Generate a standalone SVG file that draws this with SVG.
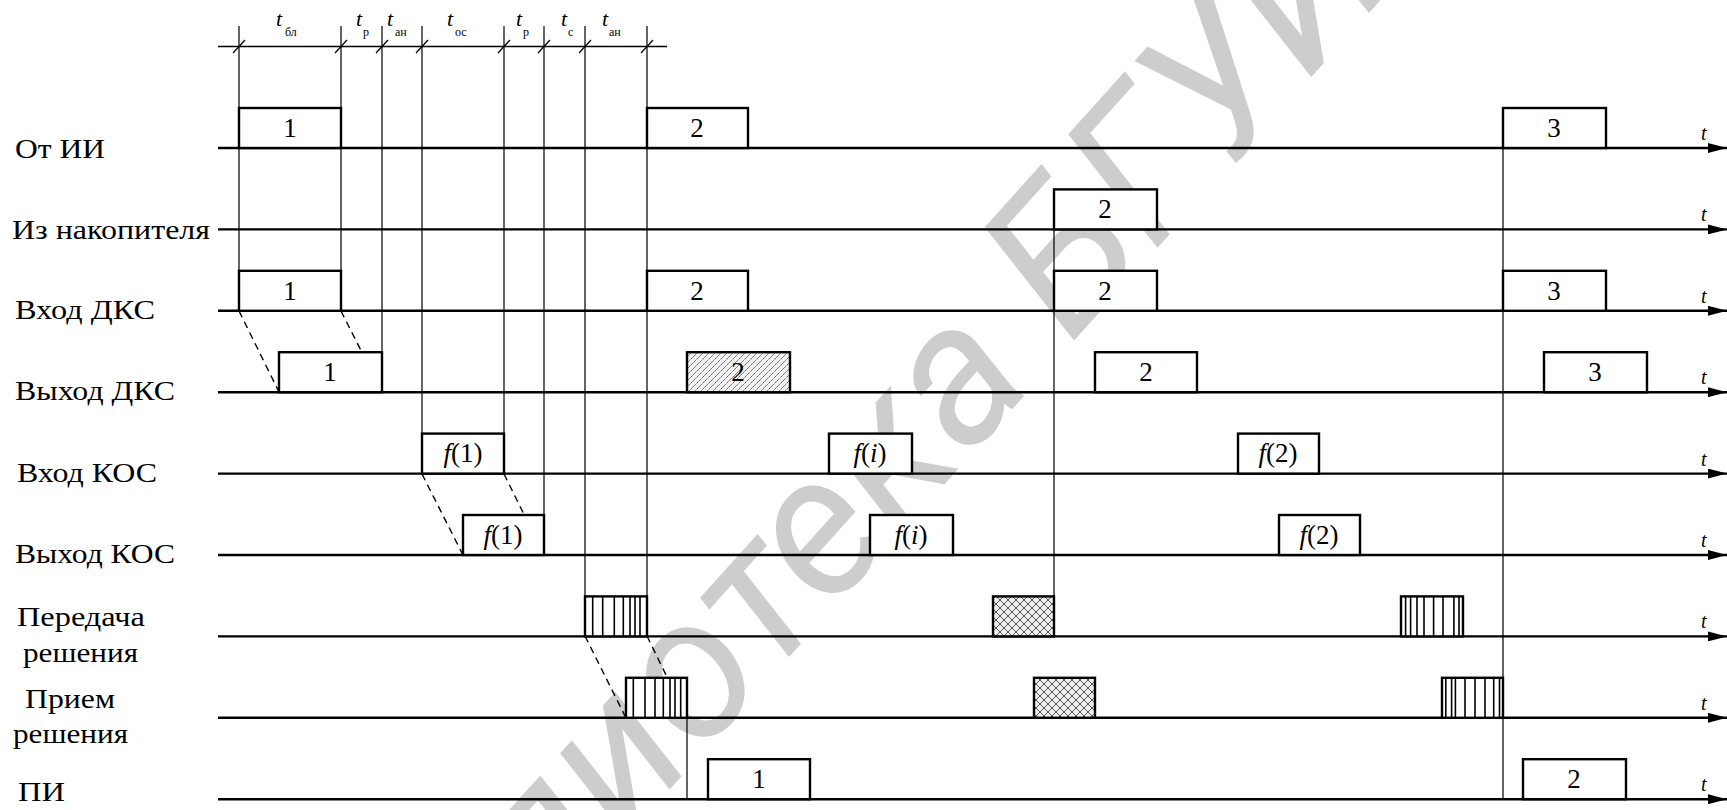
<svg xmlns="http://www.w3.org/2000/svg" width="1727" height="810" viewBox="0 0 1727 810">
<style>
.lbl{font-family:"Liberation Serif","Times New Roman",serif;font-size:27px;fill:#000}
.num{font-family:"Liberation Serif","Times New Roman",serif;font-size:27px;fill:#000;text-anchor:middle}
.it{font-style:italic}
.tt{font-family:"Liberation Serif","Times New Roman",serif;font-style:italic;font-size:22px;fill:#000}
.sub{font-family:"Liberation Serif","Times New Roman",serif;font-size:12px;fill:#000}
.axis{stroke:#000;stroke-width:2.4;fill:none}
.box{stroke:#000;stroke-width:2.4;fill:#fff}
.guide{stroke:#000;stroke-width:1.2;fill:none}
.dash{stroke:#000;stroke-width:1.4;stroke-dasharray:7,5;fill:none}
.vh{stroke:#000;stroke-width:1.6}
.wm{font-family:Roboto,"DejaVu Sans",sans-serif;font-style:italic;font-size:200px;fill:#cdcdcd}
</style>
<defs>
<marker id="arr" viewBox="0 0 19 10" refX="19" refY="5" markerWidth="19" markerHeight="10" markerUnits="userSpaceOnUse" orient="auto">
<path d="M0,0 L19,5 L0,10 Z" fill="#000"/>
</marker>
<pattern id="diag" patternUnits="userSpaceOnUse" width="6" height="6">
<rect width="6" height="6" fill="#f2f2f2"/>
<path d="M-1,7 L7,-1 M-1,1 L1,-1 M5,7 L7,5" stroke="#444" stroke-width="1" stroke-dasharray="2,1"/>
</pattern>
<pattern id="xh" patternUnits="userSpaceOnUse" width="8" height="8">
<rect width="8" height="8" fill="#eeeeee"/>
<path d="M0,0 L8,8 M0,8 L8,0" stroke="#444" stroke-width="0.9"/>
</pattern>
</defs>
<rect width="1727" height="810" fill="#fff"/>

<text class="wm" transform="translate(319,1179) rotate(-48)">Библиотека БГУИР</text>

<g id="scale">
<line class="guide" x1="218" y1="46.5" x2="667" y2="46.5" style="stroke-width:1.5"/>
<path class="guide" d="M233,53 L245,40 M335,53 L347,40 M376,53 L388,40 M416,53 L428,40 M498,53 L510,40 M538,53 L550,40 M579,53 L591,40 M641,53 L653,40"/>
<text class="tt" x="276" y="26">t</text><text class="sub" x="285" y="36">бл</text>
<text class="tt" x="356" y="26">t</text><text class="sub" x="363" y="36">р</text>
<text class="tt" x="387" y="26">t</text><text class="sub" x="395" y="36">ан</text>
<text class="tt" x="447" y="26">t</text><text class="sub" x="455" y="36">ос</text>
<text class="tt" x="516" y="26">t</text><text class="sub" x="523" y="36">р</text>
<text class="tt" x="561" y="26">t</text><text class="sub" x="568" y="36">с</text>
<text class="tt" x="602" y="26">t</text><text class="sub" x="609" y="36">ан</text>
</g>

<g id="guides">
<path class="guide" d="M239,26 V311 M341,26 V311 M382,26 V392 M422,26 V474 M504,26 V474 M544,26 V555 M585,26 V636 M647,26 V636 M687,718 V799 M1054,189 V636 M1503,108 V799"/>
</g>

<g id="labels">
<text class="lbl" x="15" y="158" textLength="90" lengthAdjust="spacingAndGlyphs">От ИИ</text>
<text class="lbl" x="12" y="239" textLength="198" lengthAdjust="spacingAndGlyphs">Из накопителя</text>
<text class="lbl" x="15" y="319" textLength="140" lengthAdjust="spacingAndGlyphs">Вход ДКС</text>
<text class="lbl" x="15" y="400" textLength="160" lengthAdjust="spacingAndGlyphs">Выход ДКС</text>
<text class="lbl" x="17" y="482" textLength="140" lengthAdjust="spacingAndGlyphs">Вход КОС</text>
<text class="lbl" x="15" y="563" textLength="160" lengthAdjust="spacingAndGlyphs">Выход КОС</text>
<text class="lbl" x="17" y="626" textLength="128" lengthAdjust="spacingAndGlyphs">Передача</text>
<text class="lbl" x="23" y="662" textLength="115" lengthAdjust="spacingAndGlyphs">решения</text>
<text class="lbl" x="25" y="708" textLength="90" lengthAdjust="spacingAndGlyphs">Прием</text>
<text class="lbl" x="13" y="743" textLength="115" lengthAdjust="spacingAndGlyphs">решения</text>
<text class="lbl" x="18" y="801" textLength="47" lengthAdjust="spacingAndGlyphs">ПИ</text>
</g>

<g id="connectors">
<line class="axis" x1="218" y1="148" x2="1727" y2="148" marker-end="url(#arr)"/>
<line class="axis" x1="218" y1="229.4" x2="1727" y2="229.4" marker-end="url(#arr)"/>
<line class="axis" x1="218" y1="310.8" x2="1727" y2="310.8" marker-end="url(#arr)"/>
<line class="axis" x1="218" y1="392.2" x2="1727" y2="392.2" marker-end="url(#arr)"/>
<line class="axis" x1="218" y1="473.6" x2="1727" y2="473.6" marker-end="url(#arr)"/>
<line class="axis" x1="218" y1="555" x2="1727" y2="555" marker-end="url(#arr)"/>
<line class="axis" x1="218" y1="636.4" x2="1727" y2="636.4" marker-end="url(#arr)"/>
<line class="axis" x1="218" y1="717.8" x2="1727" y2="717.8" marker-end="url(#arr)"/>
<line class="axis" x1="218" y1="799.2" x2="1727" y2="799.2" marker-end="url(#arr)"/>
<path class="dash" d="M239,311 L279,392 M341,311 L382,392 M422,474 L463,555 M504,474 L544,555 M585,636 L626,718 M647,636 L687,718"/>
<g class="tt" style="font-size:20px">
<text x="1701" y="140">t</text><text x="1701" y="221">t</text><text x="1701" y="303">t</text>
<text x="1701" y="384">t</text><text x="1701" y="466">t</text><text x="1701" y="547">t</text>
<text x="1701" y="628">t</text><text x="1701" y="710">t</text><text x="1701" y="791">t</text>
</g>
</g>

<g id="row-ot-ii">
<rect class="box" x="239" y="108" width="102" height="40"/><text class="num" x="290" y="137">1</text>
<rect class="box" x="647" y="108" width="101" height="40"/><text class="num" x="697" y="137">2</text>
<rect class="box" x="1503" y="108" width="103" height="40"/><text class="num" x="1554" y="137">3</text>
</g>
<g id="row-nakop">
<rect class="box" x="1054" y="189.4" width="103" height="40"/><text class="num" x="1105" y="218">2</text>
</g>
<g id="row-vhod-dks">
<rect class="box" x="239" y="270.8" width="102" height="40"/><text class="num" x="290" y="300">1</text>
<rect class="box" x="647" y="270.8" width="101" height="40"/><text class="num" x="697" y="300">2</text>
<rect class="box" x="1054" y="270.8" width="103" height="40"/><text class="num" x="1105" y="300">2</text>
<rect class="box" x="1503" y="270.8" width="103" height="40"/><text class="num" x="1554" y="300">3</text>
</g>
<g id="row-vyhod-dks">
<rect class="box" x="279" y="352.2" width="103" height="40"/><text class="num" x="330" y="381">1</text>
<rect class="box" x="687" y="352.2" width="103" height="40" style="fill:url(#diag)"/><text class="num" x="738" y="381">2</text>
<rect class="box" x="1095" y="352.2" width="102" height="40"/><text class="num" x="1146" y="381">2</text>
<rect class="box" x="1544" y="352.2" width="103" height="40"/><text class="num" x="1595" y="381">3</text>
</g>
<g id="row-vhod-kos">
<rect class="box" x="422" y="433.6" width="82" height="40"/><text class="num" x="463" y="462"><tspan class="it">f</tspan>(1)</text>
<rect class="box" x="829" y="433.6" width="83" height="40"/><text class="num" x="870" y="462"><tspan class="it">f</tspan>(<tspan class="it">i</tspan>)</text>
<rect class="box" x="1238" y="433.6" width="81" height="40"/><text class="num" x="1278" y="462"><tspan class="it">f</tspan>(2)</text>
</g>
<g id="row-vyhod-kos">
<rect class="box" x="463" y="515" width="81" height="40"/><text class="num" x="503" y="544"><tspan class="it">f</tspan>(1)</text>
<rect class="box" x="870" y="515" width="83" height="40"/><text class="num" x="911" y="544"><tspan class="it">f</tspan>(<tspan class="it">i</tspan>)</text>
<rect class="box" x="1279" y="515" width="81" height="40"/><text class="num" x="1319" y="544"><tspan class="it">f</tspan>(2)</text>
</g>
<g id="row-peredacha">
<rect class="box" x="585" y="596.4" width="62" height="40"/>
<path class="vh" d="M592.7,596 V636 M602.7,596 V636 M614.3,596 V636 M623.3,596 V636 M630,596 V636 M635,596 V636 M640,596 V636"/>
<rect class="box" x="993" y="596.4" width="61" height="40" style="fill:url(#xh)"/>
<rect class="box" x="1401" y="596.4" width="62" height="40"/>
<path class="vh" d="M1405.6,596 V636 M1410.6,596 V636 M1417,596 V636 M1424,596 V636 M1433.6,596 V636 M1443,596 V636 M1453.9,596 V636 M1459,596 V636"/>
</g>
<g id="row-priem">
<rect class="box" x="626" y="677.8" width="61" height="40"/>
<path class="vh" d="M633.3,678 V718 M645,678 V718 M655,678 V718 M663.3,678 V718 M670,678 V718 M675,678 V718 M680.7,678 V718"/>
<rect class="box" x="1034" y="677.8" width="61" height="40" style="fill:url(#xh)"/>
<rect class="box" x="1442" y="677.8" width="61" height="40"/>
<path class="vh" d="M1445.8,678 V718 M1451.6,678 V718 M1455.4,678 V718 M1465,678 V718 M1475,678 V718 M1485,678 V718 M1493.7,678 V718 M1499.5,678 V718"/>
</g>
<g id="row-pi">
<rect class="box" x="708" y="759.2" width="102" height="40"/><text class="num" x="759" y="788">1</text>
<rect class="box" x="1523" y="759.2" width="103" height="40"/><text class="num" x="1574" y="788">2</text>
</g>
</svg>
